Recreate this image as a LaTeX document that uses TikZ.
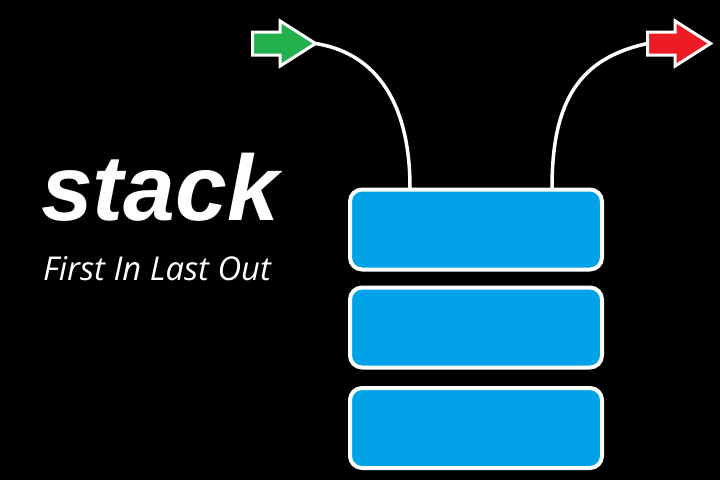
\documentclass[tikz,border=0pt]{standalone}
\usepackage{fontspec}
\usetikzlibrary{shapes.arrows}
\newfontfamily\titlefont{Liberation Sans}
\newfontfamily\subfont{Open Sans}
\definecolor{stackblue}{RGB}{0,162,232}
\definecolor{pushgreen}{RGB}{34,177,76}
\definecolor{popred}{RGB}{237,28,36}
\tikzset{
  stackbox/.style={draw=white, fill=stackblue, line width=4pt, rounded corners=12pt,
    minimum width=252pt, minimum height=80pt, inner sep=0pt, outer sep=0pt},
  blockarrow/.style={single arrow, draw=white, line width=3pt, minimum height=63pt,
    minimum width=42pt, single arrow head extend=11pt, single arrow tip angle=65,
    inner xsep=0pt, inner ysep=10pt, outer sep=0pt},
  link/.style={draw=white, line width=3.5pt}
}
\begin{document}
\begin{tikzpicture}[x=1pt,y=-1pt]
\fill[black] (0,0) rectangle (720,480);
\useasboundingbox (0,0) rectangle (720,480);
\node[stackbox] (b1) at (476,229.5) {};
\node[stackbox] (b2) at (476,327.5) {};
\node[stackbox] (b3) at (476,428) {};
\node[blockarrow, fill=pushgreen] (push) at (275,43.5) {};
\node[blockarrow, fill=popred] (pop) at (670,43.5) {};
\coordinate (p1) at (410,188);
\coordinate (p2) at (552,188);
\draw[link] (p1) .. controls (410,95) and (370,52) .. (push.tip);
\draw[link] (p2) .. controls (552,100) and (580,58) .. (pop.tail);
\node[anchor=base west, text=white, inner sep=0pt, font=\titlefont\bfseries\itshape\fontsize{93}{93}\selectfont] (title) at (41,220) {stack};
\node[anchor=base west, text=white, inner sep=0pt, font=\subfont\itshape\fontsize{32.8}{33}\selectfont] (sub) at (43,280) {First In Last Out};
\end{tikzpicture}
\end{document}
